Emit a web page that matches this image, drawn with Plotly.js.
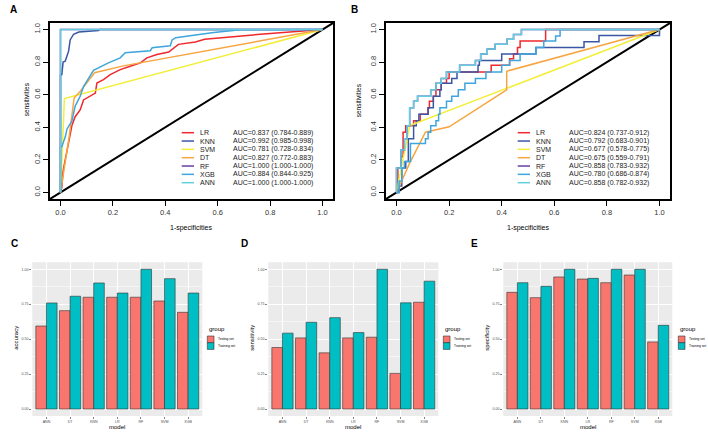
<!DOCTYPE html>
<html><head><meta charset="utf-8">
<script src="https://cdn.plot.ly/plotly-3.0.1.min.js"></script>
<style>html,body{margin:0;padding:0;background:#fff}#chart{width:708px;height:432px}</style>
</head><body><div id="chart"></div>
<script>
// ================= DATA =================
const rocModels = ['LR','KNN','SVM','DT','RF','XGB','ANN'];
const aucA = ['AUC=0.837 (0.784-0.889)','AUC=0.992 (0.985-0.998)','AUC=0.781 (0.728-0.834)','AUC=0.827 (0.772-0.883)','AUC=1.000 (1.000-1.000)','AUC=0.884 (0.844-0.925)','AUC=1.000 (1.000-1.000)'];
const aucB = ['AUC=0.824 (0.737-0.912)','AUC=0.792 (0.683-0.901)','AUC=0.677 (0.578-0.775)','AUC=0.675 (0.559-0.791)','AUC=0.858 (0.783-0.932)','AUC=0.780 (0.686-0.874)','AUC=0.858 (0.782-0.932)'];

// Panel A ROC curves (x = 1-specificity, y = sensitivity)
const A_LR_x  = [0,0.005,0.01,0.018,0.025,0.031,0.037,0.044,0.056,0.075,0.088,0.113,0.133,0.139,0.164,0.19,0.228,0.266,0.305,0.33,0.368,0.413,0.426,0.45,0.515,0.55,0.763,0.903,1];
const A_LR_y  = [0,0.03,0.134,0.196,0.248,0.30,0.362,0.413,0.465,0.506,0.568,0.593,0.61,0.672,0.692,0.723,0.754,0.775,0.795,0.826,0.847,0.862,0.878,0.909,0.923,0.94,0.971,0.987,1];
const A_KNN_x = [0,0,0.005,0.01,0.018,0.031,0.037,0.05,0.07,0.145,0.15,1];
const A_KNN_y = [0,0.72,0.723,0.80,0.806,0.867,0.936,0.971,0.985,0.994,1,1];
const A_SVM_x = [0,0.005,0.015,1];
const A_SVM_y = [0,0.2,0.576,1];
const A_DT_x  = [0,0.005,0.02,0.033,0.052,0.075,0.13,0.24,1];
const A_DT_y  = [0,0.05,0.2,0.34,0.58,0.62,0.735,0.777,1];
const A_RF_x  = [0,0,1];
const A_RF_y  = [0,1,1];
const A_XGB_x = [0,0,0.005,0.018,0.025,0.044,0.056,0.075,0.088,0.107,0.126,0.183,0.228,0.247,0.343,0.35,0.419,0.426,0.44,0.585,0.687,1];
const A_XGB_y = [0,0.28,0.28,0.34,0.39,0.44,0.53,0.59,0.65,0.70,0.75,0.795,0.826,0.857,0.87,0.888,0.9,0.936,0.95,0.981,0.998,1];
const A_ANN_x = [0,0,1];
const A_ANN_y = [0,1,1];

// Panel B ROC curves (step corners)
const B_LR_x  = [0,0.005,0.017,0.025,0.035,0.065,0.09,0.12,0.125,0.14,0.15,0.17,0.19,0.2,0.36,0.43,0.445,0.46,0.47,0.567,1];
const B_LR_y  = [0,0.15,0.22,0.37,0.41,0.44,0.48,0.52,0.56,0.59,0.63,0.67,0.70,0.74,0.78,0.82,0.85,0.89,0.93,1,1];
const B_KNN_x = [0,0.01,0.02,0.035,0.045,0.065,0.075,0.085,0.12,0.14,0.165,0.17,0.21,0.23,0.31,0.315,0.4,0.53,0.713,0.77,1];
const B_KNN_y = [0,0.04,0.15,0.19,0.33,0.41,0.44,0.48,0.52,0.59,0.63,0.67,0.70,0.74,0.78,0.81,0.85,0.89,0.925,0.963,1];
const B_SVM_x = [0,0.05,1];
const B_SVM_y = [0,0.41,1];
const B_DT_x  = [0,0.05,0.11,0.2,0.419,0.419,1];
const B_DT_y  = [0,0.18,0.37,0.403,0.63,0.744,1];
const B_RF_x  = [0,0,0.017,0.03,0.04,0.05,0.065,0.08,0.13,0.15,0.17,0.19,0.24,0.30,0.32,0.345,0.375,0.42,0.445,0.475,1];
const B_RF_y  = [0,0.15,0.26,0.33,0.41,0.52,0.56,0.59,0.63,0.67,0.70,0.74,0.78,0.81,0.85,0.88,0.91,0.94,0.97,1,1];
const B_XGB_x = [0,0.01,0.02,0.03,0.053,0.11,0.12,0.13,0.15,0.16,0.165,0.19,0.21,0.235,0.26,0.3,0.34,0.4,0.43,0.47,0.53,0.56,0.605,0.622,1];
const B_XGB_y = [0,0.07,0.15,0.19,0.30,0.33,0.37,0.41,0.44,0.48,0.52,0.56,0.59,0.63,0.67,0.70,0.74,0.78,0.81,0.85,0.89,0.93,0.96,1,1];
const B_ANN_x = [0,0,0.017,0.03,0.04,0.05,0.065,0.08,0.13,0.15,0.17,0.19,0.24,0.30,0.32,0.345,0.375,0.42,0.445,0.475,1];
const B_ANN_y = [0,0.15,0.26,0.33,0.41,0.52,0.56,0.59,0.63,0.67,0.70,0.74,0.78,0.81,0.85,0.88,0.91,0.94,0.97,1,1];

const rocTickVals = [0,0.2,0.4,0.6,0.8,1];
const rocTickText = ['0.0','0.2','0.4','0.6','0.8','1.0'];

// Bar panels
const barModels = ['ANN','DT','KNN','LR','RF','SVM','XGB'];
const groups = ['Testing set','Training set'];
const accTest   = [0.594,0.704,0.800,0.800,0.800,0.773,0.692];
const accTrain  = [0.759,0.807,0.902,0.830,1.000,0.933,0.830];
const sensTest  = [0.44,0.509,0.402,0.509,0.514,0.255,0.764];
const sensTrain = [0.543,0.621,0.654,0.547,1.000,0.760,0.915];
const specTest  = [0.835,0.797,0.945,0.930,0.904,0.959,0.480];
const specTrain = [0.904,0.878,1.000,0.935,1.000,1.000,0.599];
const barTickVals = [0,0.25,0.5,0.75,1];
const barTickText = ['0.00','0.25','0.50','0.75','1.00'];

// ================= STYLE =================
const W = 708, H = 432;
const PX = v => v / W, PY = v => 1 - v / H;
const FONT = 'Liberation Sans, Arial, sans-serif';
const rocColors = ['#F0282D','#3A56A5','#F2EE3A','#F7A541','#6B3FA0','#3FA6DD','#62CEE0'];
const barColors = ['#F8766D','#00BFC4'];
const rocRange = [-0.04, 1.04];
const barYRange = [-0.05, 1.05];

const traces = [];
const rocA = [[A_LR_x,A_LR_y],[A_KNN_x,A_KNN_y],[A_SVM_x,A_SVM_y],[A_DT_x,A_DT_y],[A_RF_x,A_RF_y],[A_XGB_x,A_XGB_y],[A_ANN_x,A_ANN_y]];
const rocB = [[B_LR_x,B_LR_y],[B_KNN_x,B_KNN_y],[B_SVM_x,B_SVM_y],[B_DT_x,B_DT_y],[B_RF_x,B_RF_y],[B_XGB_x,B_XGB_y],[B_ANN_x,B_ANN_y]];
const stepB = [true,true,false,false,true,true,true];
rocA.forEach((d,i)=>traces.push({x:d[0],y:d[1],xaxis:'x',yaxis:'y',mode:'lines',name:rocModels[i],
  line:{color:rocColors[i],width:1.5,shape:'linear'},hoverinfo:'skip',showlegend:false}));
rocB.forEach((d,i)=>traces.push({x:d[0],y:d[1],xaxis:'x2',yaxis:'y2',mode:'lines',name:rocModels[i],
  line:{color:rocColors[i],width:1.5,shape:stepB[i]?'hv':'linear'},hoverinfo:'skip',showlegend:false}));

const barSets = [[accTest,accTrain,'3'],[sensTest,sensTrain,'4'],[specTest,specTrain,'5']];
barSets.forEach(s=>{
  [s[0],s[1]].forEach((vals,g)=>traces.push({type:'bar',x:barModels,y:vals,xaxis:'x'+s[2],yaxis:'y'+s[2],name:groups[g],
    marker:{color:barColors[g],line:{color:'#333333',width:0.6}},hoverinfo:'skip',showlegend:false}));
});

function rocX(dom){return {domain:dom,range:rocRange,tickvals:rocTickVals,ticktext:rocTickText,ticks:'outside',ticklen:5,tickwidth:1,tickcolor:'#000',
  showline:true,mirror:true,linecolor:'#000',linewidth:2,showgrid:false,zeroline:false,tickfont:{size:7.5,color:'#333'},fixedrange:true};}
function rocY(dom){return {domain:dom,range:rocRange,tickvals:rocTickVals,ticktext:rocTickText,ticks:'outside',ticklen:5,tickwidth:1,tickcolor:'#000',
  showline:true,mirror:true,linecolor:'#000',linewidth:2,showgrid:false,zeroline:false,tickangle:-90,tickfont:{size:7.5,color:'#333'},fixedrange:true};}
function barX(dom){return {domain:dom,type:'category',categoryorder:'array',categoryarray:barModels,range:[-0.6,6.6],showgrid:true,gridcolor:'#FFFFFF',gridwidth:1,
  ticks:'outside',ticklen:2,tickwidth:0.6,tickcolor:'#333',showline:false,zeroline:false,tickfont:{size:3.6,color:'#4D4D4D'},fixedrange:true};}
function barY(dom){return {domain:dom,range:barYRange,tickvals:barTickVals,ticktext:barTickText,showgrid:true,gridcolor:'#FFFFFF',gridwidth:1,
  minor:{tickvals:[0.125,0.375,0.625,0.875],showgrid:true,gridcolor:'#FFFFFF',gridwidth:0.5,ticks:''},
  ticks:'outside',ticklen:2,tickwidth:0.6,tickcolor:'#333',showline:false,zeroline:false,tickfont:{size:3.6,color:'#4D4D4D'},fixedrange:true};}

const rocYDom = [PY(199), PY(23)];
const barYDom = [PY(416), PY(262.3)];
const layout = {
  width:W,height:H,margin:{l:0,r:0,t:0,b:0},paper_bgcolor:'#fff',plot_bgcolor:'rgba(0,0,0,0)',
  font:{family:FONT,color:'#000'},showlegend:false,barmode:'group',bargap:0.1,bargroupgap:0,
  xaxis:Object.assign(rocX([PX(50),PX(333)]),{anchor:'y'}),
  yaxis:Object.assign(rocY(rocYDom),{anchor:'x'}),
  xaxis2:Object.assign(rocX([PX(386),PX(670)]),{anchor:'y2'}),
  yaxis2:Object.assign(rocY(rocYDom),{anchor:'x2'}),
  xaxis3:Object.assign(barX([PX(32.3),PX(202.3)]),{anchor:'y3'}),
  yaxis3:Object.assign(barY(barYDom),{anchor:'x3'}),
  xaxis4:Object.assign(barX([PX(268.3),PX(438.3)]),{anchor:'y4'}),
  yaxis4:Object.assign(barY(barYDom),{anchor:'x4'}),
  xaxis5:Object.assign(barX([PX(503.3),PX(672.3)]),{anchor:'y5'}),
  yaxis5:Object.assign(barY(barYDom),{anchor:'x5'}),
  shapes:[],annotations:[]
};
// grey panel backgrounds
['3','4','5'].forEach(n=>layout.shapes.push({type:'rect',xref:'x'+n+' domain',yref:'y'+n+' domain',x0:0,x1:1,y0:0,y1:1,
  fillcolor:'#EBEBEB',line:{width:0},layer:'below'}));
// diagonal reference lines
[['x','y'],['x2','y2']].forEach(r=>layout.shapes.push({type:'line',xref:r[0],yref:r[1],x0:rocRange[0],y0:rocRange[0],x1:rocRange[1],y1:rocRange[1],
  line:{color:'#000',width:2},layer:'below'}));

const ann = (x,y,text,o) => layout.annotations.push(Object.assign({xref:'paper',yref:'paper',x:PX(x),y:PY(y),text:text,showarrow:false,
  xanchor:'center',yanchor:'middle',font:{size:7,family:FONT,color:'#000'}},o||{}));

// ROC legends
[[50,aucA],[386,aucB]].forEach(p=>{
  const x0 = p[0];
  rocModels.forEach((m,i)=>{
    const yy = 132.7 + 8.33*i;
    layout.shapes.push({type:'line',xref:'paper',yref:'paper',x0:PX(x0+131.7),x1:PX(x0+144),y0:PY(yy),y1:PY(yy),line:{color:rocColors[i],width:1.5}});
    ann(x0+147.5,yy,m,{xanchor:'left',font:{size:7,family:FONT,color:'#222'}});
    ann(x0+180.5,yy,p[1][i],{xanchor:'left',font:{size:7,family:FONT,color:'#222'}});
  });
});
// ROC axis titles
ann(191.7,228,'1-specificities',{font:{size:7,family:FONT,color:'#000'}});
ann(528.3,228,'1-specificities',{font:{size:7,family:FONT,color:'#000'}});
ann(27.3,99,'sensitivities',{textangle:-90,font:{size:6.5,family:FONT,color:'#000'}});
ann(358.3,100,'sensitivities',{textangle:-90,font:{size:6.5,family:FONT,color:'#000'}});

// Bar titles & legends
const barPanels = [[32.3,'accuracy'],[268.3,'sensitivity'],[503.3,'specificity']];
barPanels.forEach(p=>{
  const l = p[0];
  ann(l+85,427,'model',{font:{size:6,family:FONT,color:'#000'}});
  ann(l-16.5,338,p[1],{textangle:-90,font:{size:6,family:FONT,color:'#000'}});
  ann(l+174.5,329,'group',{xanchor:'left',font:{size:6,family:FONT,color:'#000'}});
  groups.forEach((g,i)=>{
    const top = 336 + 6.7*i;
    layout.shapes.push({type:'rect',xref:'paper',yref:'paper',x0:PX(l+175),x1:PX(l+181.7),y0:PY(top+6.7),y1:PY(top),
      fillcolor:barColors[i],line:{color:'#333',width:0.6}});
    ann(l+184,top+3.35,g,{xanchor:'left',font:{size:3.3,family:FONT,color:'#000'}});
  });
});
// panel letters
[['A',13.3,9.3],['B',355,9.5],['C',14.5,244],['D',244.7,243.7],['E',475,244]].forEach(t=>
  ann(t[1],t[2],'<b>'+t[0]+'</b>',{font:{size:10,family:FONT,color:'#000'}}));

Plotly.newPlot('chart',traces,layout,{staticPlot:true,displayModeBar:false});
</script></body></html>
